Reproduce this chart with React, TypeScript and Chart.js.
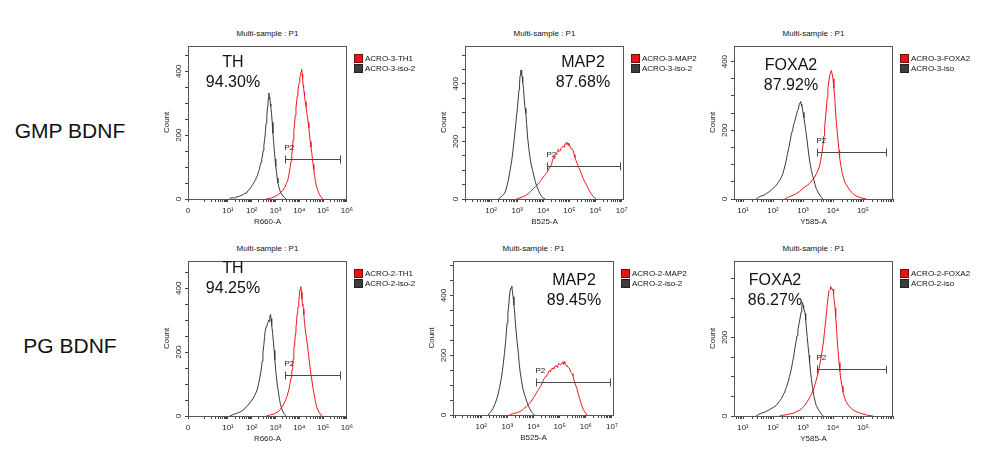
import React, { useEffect, useRef } from "react";
import { Chart, registerables } from "chart.js";

Chart.register(...registerables);

// ---------------- data (x = log10 fluorescence, y = count) ----------------
const gmpThIso = [[1.07,2],[1.18,4],[1.28,3],[1.38,7],[1.49,9],[1.58,12],[1.66,15],[1.72,19],[1.78,18],[1.84,26],[1.90,30],[1.96,36],[2.01,42],[2.06,47],[2.11,55],[2.16,60],[2.20,68],[2.24,74],[2.28,86],[2.32,92],[2.35,105],[2.39,114],[2.42,126],[2.45,135],[2.48,152],[2.51,168],[2.54,186],[2.57,205],[2.60,236],[2.63,255],[2.66,288],[2.68,300],[2.70,318],[2.72,332],[2.74,315],[2.76,318],[2.78,298],[2.80,290],[2.83,268],[2.86,240],[2.89,206],[2.92,180],[2.95,150],[2.98,125],[3.01,102],[3.04,84],[3.07,66],[3.10,50],[3.14,38],[3.19,25],[3.25,16],[3.31,9],[3.38,4],[3.45,0]];
const gmpTh = [[2.61,0],[2.72,2],[2.82,3],[2.92,6],[3.03,10],[3.14,15],[3.24,22],[3.32,28],[3.38,35],[3.45,48],[3.50,56],[3.54,66],[3.58,85],[3.62,102],[3.65,118],[3.68,136],[3.71,158],[3.74,185],[3.77,212],[3.80,236],[3.83,262],[3.86,288],[3.89,304],[3.91,322],[3.94,338],[3.97,356],[4.00,366],[4.02,380],[4.04,386],[4.06,396],[4.08,400],[4.10,406],[4.12,392],[4.14,378],[4.16,356],[4.18,348],[4.20,335],[4.22,322],[4.25,305],[4.28,290],[4.31,272],[4.34,258],[4.37,240],[4.40,222],[4.43,200],[4.46,180],[4.49,162],[4.52,146],[4.55,126],[4.58,108],[4.61,92],[4.64,74],[4.67,59],[4.71,44],[4.75,33],[4.79,24],[4.84,15],[4.91,7],[4.99,0]];
const pgThIso = [[1.07,0],[1.20,4],[1.35,8],[1.50,12],[1.63,18],[1.75,26],[1.84,34],[1.95,44],[2.05,54],[2.12,64],[2.19,75],[2.25,88],[2.30,106],[2.35,124],[2.40,147],[2.44,172],[2.47,198],[2.51,224],[2.54,249],[2.57,268],[2.61,280],[2.64,284],[2.68,292],[2.71,300],[2.74,296],[2.76,311],[2.79,318],[2.81,305],[2.83,300],[2.85,284],[2.88,258],[2.91,232],[2.94,205],[2.97,176],[3.00,150],[3.03,126],[3.07,100],[3.12,75],[3.16,55],[3.20,39],[3.25,25],[3.31,13],[3.38,5],[3.45,0]];
const pgTh = [[2.61,0],[2.75,3],[2.89,5],[3.00,9],[3.10,13],[3.20,20],[3.28,29],[3.36,40],[3.45,54],[3.52,72],[3.56,82],[3.59,95],[3.62,106],[3.65,120],[3.68,134],[3.70,147],[3.72,162],[3.74,178],[3.77,208],[3.79,222],[3.81,235],[3.84,260],[3.86,278],[3.88,292],[3.91,321],[3.93,330],[3.95,342],[3.98,362],[4.01,385],[4.03,396],[4.05,403],[4.07,405],[4.09,388],[4.11,366],[4.13,350],[4.15,345],[4.17,336],[4.19,318],[4.22,290],[4.25,270],[4.29,249],[4.34,222],[4.38,198],[4.42,172],[4.46,147],[4.50,125],[4.54,106],[4.58,85],[4.63,65],[4.67,48],[4.71,34],[4.76,22],[4.82,13],[4.88,6],[4.94,0]];
const gmpMap2Iso = [[2.28,0],[2.35,5],[2.41,10],[2.48,16],[2.54,25],[2.60,42],[2.66,65],[2.72,96],[2.79,133],[2.84,170],[2.89,212],[2.94,256],[2.98,292],[3.01,318],[3.04,350],[3.07,380],[3.09,405],[3.11,428],[3.13,440],[3.15,448],[3.17,432],[3.19,426],[3.21,405],[3.24,383],[3.27,345],[3.30,315],[3.33,298],[3.36,262],[3.40,212],[3.44,178],[3.49,144],[3.54,118],[3.59,99],[3.64,80],[3.68,65],[3.74,46],[3.81,31],[3.87,18],[3.94,8],[4.00,3],[4.07,0]];
const gmpMap2 = [[2.98,0],[3.10,4],[3.24,8],[3.33,13],[3.43,19],[3.52,27],[3.62,36],[3.71,44],[3.81,53],[3.90,64],[4.00,76],[4.05,82],[4.10,88],[4.15,94],[4.19,99],[4.23,108],[4.26,112],[4.29,118],[4.32,122],[4.35,134],[4.39,144],[4.42,140],[4.44,150],[4.47,153],[4.49,156],[4.52,162],[4.54,165],[4.56,170],[4.58,173],[4.61,165],[4.64,168],[4.67,176],[4.70,178],[4.73,182],[4.77,184],[4.80,180],[4.82,188],[4.85,193],[4.88,190],[4.90,197],[4.93,195],[4.95,186],[4.97,194],[5.00,188],[5.03,180],[5.06,176],[5.09,173],[5.12,170],[5.15,167],[5.18,154],[5.21,144],[5.25,134],[5.30,122],[5.35,110],[5.41,99],[5.47,84],[5.53,70],[5.60,58],[5.66,48],[5.72,36],[5.79,25],[5.86,15],[5.92,8],[5.97,3],[6.02,0]];
const pgMap2Iso = [[2.26,0],[2.32,6],[2.38,12],[2.45,22],[2.51,34],[2.58,50],[2.64,67],[2.70,92],[2.77,122],[2.81,148],[2.85,176],[2.89,208],[2.93,242],[2.96,275],[2.99,308],[3.02,340],[3.06,374],[3.08,398],[3.11,418],[3.14,425],[3.17,431],[3.19,415],[3.22,396],[3.25,368],[3.28,341],[3.31,305],[3.34,275],[3.38,240],[3.42,209],[3.45,175],[3.49,144],[3.54,115],[3.59,89],[3.65,70],[3.70,56],[3.75,44],[3.79,34],[3.85,22],[3.91,12],[3.97,5],[4.04,0]];
const pgMap2 = [[3.08,0],[3.20,4],[3.34,7],[3.44,10],[3.53,14],[3.62,20],[3.72,28],[3.81,36],[3.91,45],[4.00,58],[4.05,64],[4.10,72],[4.15,80],[4.20,86],[4.25,94],[4.30,100],[4.33,108],[4.36,112],[4.39,120],[4.42,122],[4.45,128],[4.48,130],[4.51,134],[4.55,138],[4.58,146],[4.62,148],[4.65,144],[4.68,155],[4.71,152],[4.75,158],[4.78,155],[4.81,160],[4.84,165],[4.87,164],[4.90,160],[4.93,166],[4.96,172],[5.00,170],[5.03,168],[5.06,171],[5.09,175],[5.12,176],[5.14,170],[5.16,179],[5.18,178],[5.20,172],[5.23,168],[5.25,166],[5.28,163],[5.31,160],[5.35,158],[5.38,155],[5.41,148],[5.44,142],[5.48,138],[5.51,133],[5.54,120],[5.57,111],[5.61,100],[5.66,89],[5.71,72],[5.76,56],[5.81,42],[5.86,28],[5.90,19],[5.95,12],[6.00,5],[6.04,0]];
const gmpFoxa2Iso = [[1.44,0],[1.52,5],[1.61,9],[1.70,11],[1.78,16],[1.86,20],[1.94,26],[2.02,32],[2.11,40],[2.16,46],[2.22,54],[2.27,62],[2.33,74],[2.38,90],[2.44,112],[2.48,130],[2.53,150],[2.57,168],[2.61,188],[2.65,200],[2.69,217],[2.73,228],[2.78,245],[2.82,258],[2.85,262],[2.87,274],[2.90,280],[2.92,284],[2.94,276],[2.96,270],[2.98,265],[3.00,252],[3.03,236],[3.07,214],[3.11,188],[3.15,160],[3.19,131],[3.23,106],[3.28,83],[3.32,68],[3.37,54],[3.40,42],[3.44,31],[3.50,20],[3.56,11],[3.61,5],[3.67,0]];
const gmpFoxa2 = [[2.39,0],[2.48,4],[2.56,7],[2.67,11],[2.78,16],[2.89,22],[3.00,31],[3.11,38],[3.22,45],[3.30,54],[3.39,64],[3.45,74],[3.50,83],[3.55,96],[3.59,112],[3.63,134],[3.67,159],[3.70,184],[3.72,207],[3.75,236],[3.78,265],[3.81,296],[3.83,322],[3.86,342],[3.89,360],[3.91,364],[3.94,374],[3.97,365],[4.00,350],[4.03,322],[4.06,293],[4.08,262],[4.11,226],[4.14,196],[4.17,169],[4.20,142],[4.22,121],[4.26,98],[4.31,74],[4.36,58],[4.42,45],[4.49,35],[4.56,26],[4.64,18],[4.72,11],[4.80,8],[4.89,5],[5.00,2],[5.11,0]];
const pgFoxa2Iso = [[1.44,0],[1.52,4],[1.61,7],[1.70,9],[1.78,12],[1.86,15],[1.94,19],[2.02,22],[2.11,27],[2.20,36],[2.28,44],[2.33,52],[2.39,61],[2.44,72],[2.50,86],[2.55,100],[2.61,119],[2.65,136],[2.69,152],[2.72,168],[2.76,186],[2.80,204],[2.83,219],[2.86,232],[2.89,244],[2.91,252],[2.94,265],[2.96,278],[2.98,290],[3.00,282],[3.02,273],[3.04,270],[3.07,261],[3.09,244],[3.11,227],[3.14,202],[3.17,177],[3.20,155],[3.22,136],[3.25,114],[3.28,94],[3.32,72],[3.36,52],[3.40,38],[3.44,27],[3.50,18],[3.56,11],[3.61,5],[3.67,0]];
const pgFoxa2 = [[2.22,0],[2.33,2],[2.44,3],[2.55,5],[2.67,7],[2.78,11],[2.89,15],[2.98,21],[3.06,27],[3.13,35],[3.20,44],[3.26,52],[3.31,61],[3.37,72],[3.42,86],[3.48,102],[3.53,119],[3.57,135],[3.61,152],[3.65,172],[3.69,194],[3.72,218],[3.76,244],[3.79,268],[3.81,286],[3.84,304],[3.87,319],[3.90,322],[3.92,330],[3.94,327],[3.97,322],[4.00,323],[4.02,310],[4.04,294],[4.07,275],[4.09,252],[4.12,222],[4.14,194],[4.17,164],[4.20,136],[4.23,114],[4.26,94],[4.30,76],[4.33,61],[4.38,48],[4.44,36],[4.52,27],[4.61,19],[4.70,14],[4.78,11],[4.89,8],[5.00,5],[5.15,2],[5.33,0]];

// P2 gates: [from, to, count level]
const gates = [[3.41,5.69,126],[4.13,6.94,113],[3.47,5.78,137],[3.41,5.69,129],[4.10,6.91,112],[3.47,5.78,120]];
const markers = ["TH", "MAP2", "FOXA2", "TH", "MAP2", "FOXA2"];
const percents = ["94.30%", "87.68%", "87.92%", "94.25%", "89.45%", "86.27%"];
const redLabels = ["ACRO-3-TH1", "ACRO-3-MAP2", "ACRO-3-FOXA2", "ACRO-2-TH1", "ACRO-2-MAP2", "ACRO-2-FOXA2"];
const isoLabels = ["ACRO-3-iso-2", "ACRO-3-iso-2", "ACRO-3-iso", "ACRO-2-iso-2", "ACRO-2-iso-2", "ACRO-2-iso"];
const axisTitles = ["R660-A", "B525-A", "Y585-A", "R660-A", "B525-A", "Y585-A"];
const yMaxes = [480, 532, 446, 486, 516, 395];
const xMins = [-0.68, 1.0, 0.7, -0.68, 0.92, 0.7];
const xMaxes = [6.0, 7.09, 6.0, 6.0, 7.08, 6.0];
const labeledDecades = [[1,2,3,4,5,6],[2,3,4,5,6,7],[1,2,3,4,5],[1,2,3,4,5,6],[2,3,4,5,6,7],[1,2,3,4,5]];
const rowLabels = ["GMP BDNF", "PG BDNF"];
const isoSeries = [gmpThIso, gmpMap2Iso, gmpFoxa2Iso, pgThIso, pgMap2Iso, pgFoxa2Iso];
const posSeries = [gmpTh, gmpMap2, gmpFoxa2, pgTh, pgMap2, pgFoxa2];

// ---------------- layout (page pixels) ----------------
const frames = [
  { L: 188, T: 43, R: 347, B: 199 },
  { L: 465, T: 43, R: 624, B: 199 },
  { L: 734, T: 43, R: 893, B: 199 },
  { L: 188, T: 258, R: 347, B: 416 },
  { L: 453, T: 258, R: 614, B: 415 },
  { L: 734, T: 258, R: 893, B: 416 },
];
const markerPos = [
  [233, 62, 82], [583, 62, 82], [791, 65, 85],
  [233, 268, 288], [574, 280, 300], [775, 280, 300],
];
const FONT = "'Liberation Sans', Arial, Helvetica, sans-serif";
const PAD_L = 30, PAD_T = 2, PAD_R = 10, PAD_B = 28;
const RED = "#f2161e";
const GRAY = "#3a3a3a";
const SUP: Record<string, string> = { "0": "\u2070", "1": "\u00b9", "2": "\u00b2", "3": "\u00b3", "4": "\u2074", "5": "\u2075", "6": "\u2076", "7": "\u2077" };

const framePlugin = {
  id: "frameBox",
  afterDraw(chart: any) {
    const { ctx, chartArea: a } = chart;
    ctx.save();
    ctx.strokeStyle = "#555";
    ctx.lineWidth = 1;
    ctx.strokeRect(Math.round(a.left) + 0.5, Math.round(a.top) + 0.5, Math.round(a.right - a.left) - 1, Math.round(a.bottom - a.top));
    ctx.restore();
  },
};

const gatePlugin = {
  id: "gate",
  afterDatasetsDraw(chart: any, _args: any, opts: any) {
    if (!opts || opts.x1 === undefined) return;
    const { ctx } = chart;
    const xs = chart.scales.x, ys = chart.scales.y;
    const x1 = Math.round(xs.getPixelForValue(opts.x1)) + 0.5;
    const x2 = Math.round(xs.getPixelForValue(opts.x2)) + 0.5;
    const y = Math.round(ys.getPixelForValue(opts.y)) + 0.5;
    ctx.save();
    ctx.strokeStyle = "#4a4a4a";
    ctx.lineWidth = 1;
    ctx.beginPath();
    ctx.moveTo(x1, y); ctx.lineTo(x2, y);
    ctx.moveTo(x1, y - 4); ctx.lineTo(x1, y + 4);
    ctx.moveTo(x2, y - 4); ctx.lineTo(x2, y + 4);
    ctx.stroke();
    ctx.fillStyle = "#222";
    ctx.font = "8px " + FONT;
    ctx.textAlign = "left";
    ctx.textBaseline = "middle";
    ctx.fillText("P2", x1 - 1, y - 12);
    ctx.restore();
  },
};

function Panel({ i }: { i: number }) {
  const ref = useRef<HTMLCanvasElement | null>(null);
  const f = frames[i];
  const w = f.R - f.L + PAD_L + PAD_R;
  const h = f.B - f.T + PAD_T + PAD_B;
  useEffect(() => {
    if (!ref.current) return;
    const xmin = xMins[i], xmax = xMaxes[i];
    const labeled = labeledDecades[i];
    const hasZero = xmin < 0;
    const chart = new Chart(ref.current, {
      type: "line",
      data: {
        datasets: [
          {
            label: isoLabels[i],
            data: isoSeries[i].map(([x, y]) => ({ x, y })),
            borderColor: GRAY,
            borderWidth: 1,
            pointRadius: 0,
            tension: 0,
          },
          {
            label: redLabels[i],
            data: posSeries[i].map(([x, y]) => ({ x, y })),
            borderColor: RED,
            borderWidth: 1,
            pointRadius: 0,
            tension: 0,
          },
        ],
      },
      options: {
        animation: false,
        responsive: false,
        maintainAspectRatio: false,
        events: [],
        layout: { padding: { left: 0, top: PAD_T, right: PAD_R, bottom: 0 } },
        plugins: {
          legend: { display: false },
          tooltip: { enabled: false },
          title: { display: false },
          gate: { x1: gates[i][0], x2: gates[i][1], y: gates[i][2] },
        } as any,
        scales: {
          x: {
            type: "linear",
            min: xmin,
            max: xmax,
            afterBuildTicks: (scale: any) => {
              const t: any[] = [];
              if (hasZero) t.push({ value: xmin });
              for (let n = Math.floor(Math.max(xmin, 0)); n <= Math.ceil(xmax); n++) {
                for (let k = 1; k <= 9; k++) {
                  const v = n + Math.log10(k);
                  if (v >= xmin - 1e-9 && v <= xmax + 1e-9) t.push({ value: v });
                }
              }
              scale.ticks = t;
            },
            afterFit: (scale: any) => { scale.height = PAD_B; },
            ticks: {
              autoSkip: false,
              maxRotation: 0,
              minRotation: 0,
              padding: 4,
              color: "#222",
              font: { family: FONT, size: 8 },
              callback: (v: any) => {
                if (hasZero && Math.abs(v - xmin) < 1e-6) return "0";
                const r = Math.round(v);
                if (Math.abs(v - r) < 1e-6 && labeled.includes(r)) return "10" + SUP[String(r)];
                return "";
              },
            },
            grid: { drawOnChartArea: false, drawTicks: true, tickLength: 3, color: "#444" },
            border: { display: false },
            title: { display: true, text: axisTitles[i], color: "#222", font: { family: FONT, size: 8 }, padding: { top: 0, bottom: 0 } },
          },
          y: {
            type: "linear",
            min: 0,
            max: yMaxes[i],
            afterBuildTicks: (scale: any) => {
              const t: any[] = [];
              for (let v = 0; v <= yMaxes[i]; v += 50) t.push({ value: v });
              scale.ticks = t;
            },
            afterFit: (scale: any) => { scale.width = PAD_L; },
            ticks: {
              autoSkip: false,
              minRotation: 90,
              maxRotation: 90,
              crossAlign: "center",
              padding: 0,
              color: "#222",
              font: { family: FONT, size: 8 },
              callback: (v: any) => (v % 200 === 0 ? String(v) : ""),
            },
            grid: { drawOnChartArea: false, drawTicks: true, tickLength: 3, color: "#444" },
            border: { display: false },
            title: { display: true, text: "Count", color: "#222", font: { family: FONT, size: 8 }, padding: { top: 4, bottom: 0 } },
          },
        },
      } as any,
      plugins: [framePlugin, gatePlugin],
    });
    return () => chart.destroy();
  }, [i]);

  const base: React.CSSProperties = { position: "absolute", fontFamily: FONT, color: "#111", whiteSpace: "nowrap", lineHeight: 1 };
  const cx = (f.L + f.R) / 2;
  const legX = f.R + 7;
  const legY = f.T + 11;
  const mp = markerPos[i];
  return (
    <>
      <canvas
        ref={ref}
        width={w}
        height={h}
        style={{ position: "absolute", left: f.L - PAD_L, top: f.T - PAD_T, width: w, height: h }}
      />
      <div style={{ ...base, left: cx, top: f.T - 9, fontSize: 8, transform: "translate(-50%, -50%)" }}>Multi-sample : P1</div>
      <div style={{ ...base, left: mp[0], top: mp[1], fontSize: 16, transform: "translate(-50%, -50%)" }}>{markers[i]}</div>
      <div style={{ ...base, left: mp[0], top: mp[2], fontSize: 16, transform: "translate(-50%, -50%)" }}>{percents[i]}</div>
      {[redLabels[i], isoLabels[i]].map((lab, j) => (
        <div key={j} style={{ ...base, left: legX, top: legY + j * 10, fontSize: 8, display: "flex", alignItems: "center", height: 9 }}>
          <span style={{ display: "inline-block", width: 7, height: 7, background: j === 0 ? "#e8141a" : "#3c3c3c", border: "1px solid " + (j === 0 ? "#7a0a0a" : "#222"), marginRight: 2 }} />
          <span>{lab}</span>
        </div>
      ))}
    </>
  );
}

export default function App() {
  return (
    <div style={{ position: "absolute", left: 0, top: 0, width: 1000, height: 461, background: "#fff", overflow: "hidden" }}>
      <div style={{ position: "absolute", left: 70, top: 131, transform: "translate(-50%, -50%)", fontFamily: FONT, fontSize: 21, color: "#111", whiteSpace: "nowrap" }}>{rowLabels[0]}</div>
      <div style={{ position: "absolute", left: 70, top: 346, transform: "translate(-50%, -50%)", fontFamily: FONT, fontSize: 21, color: "#111", whiteSpace: "nowrap" }}>{rowLabels[1]}</div>
      {frames.map((_, i) => <Panel key={i} i={i} />)}
    </div>
  );
}
